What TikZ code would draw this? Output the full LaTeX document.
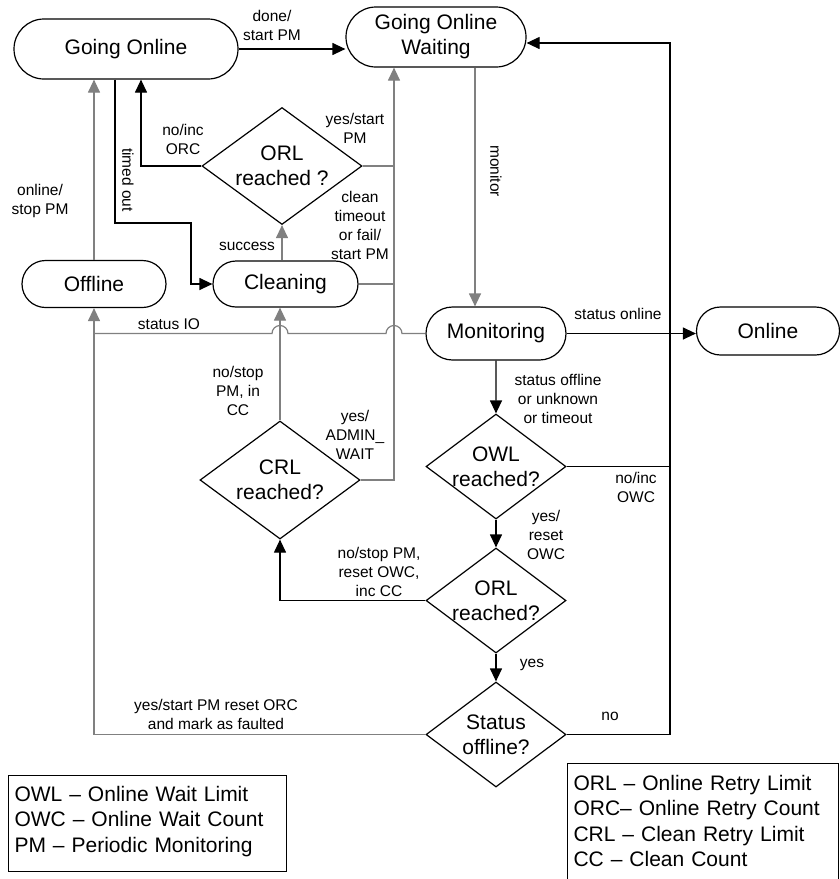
\documentclass[tikz,border=0pt]{standalone}
\usepackage{fontspec}
\setmainfont{Liberation Sans}
\usetikzlibrary{shapes.misc,shapes.geometric,arrows.meta,calc}

\newcommand{\statefont}{\fontsize{21}{25}\selectfont}
\newcommand{\edgefont}{\fontsize{15.5}{19}\selectfont}

\begin{document}
\begin{tikzpicture}[
x=1pt,y=-1pt,
line width=1.2pt,
>={Triangle[length=13pt,width=12pt]},
state/.style={draw,rounded rectangle,inner sep=0pt,align=center,font=\statefont},
decision/.style={draw,diamond,inner sep=-15pt,align=center,font=\statefont},
lbl/.style={inner sep=0pt,align=center,font=\edgefont},
flow/.style={draw=black,->},
flowg/.style={draw=gray,->},
bline/.style={draw=black},
gline/.style={draw=gray},
legend/.style={draw,line width=1pt,anchor=north west,align=left,inner sep=6pt,font=\fontsize{21}{25.5}\selectfont}
]
\path[use as bounding box,fill=white] (0,0) rectangle (840,879);

% states
\node[state,minimum width=224pt,minimum height=60pt] (goOn) at (126,49) {Going Online};
\node[state,minimum width=180pt,minimum height=60pt] (goWait) at (436,37) {Going Online\\Waiting};
\node[state,minimum width=144pt,minimum height=47pt] (offline) at (94,284) {Offline};
\node[state,minimum width=145pt,minimum height=46pt] (clean) at (285.5,284) {Cleaning};
\node[state,minimum width=140pt,minimum height=53pt] (monit) at (496,333.5) {Monitoring};
\node[state,minimum width=143pt,minimum height=48pt] (online) at (768,331) {Online};

% decisions
\node[decision,minimum width=160pt,minimum height=117pt] (orlA) at (282,166) {ORL\\reached ?};
\node[decision,minimum width=160pt,minimum height=118pt] (crl) at (280,480) {CRL\\reached?};
\node[decision,minimum width=140pt,minimum height=105pt] (owl) at (496,466.5) {OWL\\reached?};
\node[decision,minimum width=140pt,minimum height=105pt] (orlB) at (496,600.5) {ORL\\reached?};
\node[decision,minimum width=140pt,minimum height=105pt] (stOff) at (496,734.5) {Status\\offline?};

% bus lines
\coordinate (busX) at (394,0);
\coordinate (monX) at (475,0);
\coordinate (rtTop) at (670,43);
\coordinate (toBend) at (191,223);

% connectors
\draw[flow] (goOn.east) -- (goOn.east -| goWait.west);
\draw[flow] (stOff.east) -| (rtTop) -- (rtTop -| goWait.east);
\draw[bline] (owl.east) -- (owl.east -| rtTop);
\draw[flowg] (goWait.south -| monX) -- (monit.north -| monX);
\draw[flow] (monit) -- (owl);
\draw[flow] (monit.east) -- (monit.east -| online.west);
\draw[flow] (owl) -- (orlB);
\draw[flow] (orlB) -- (stOff);
\draw[flow] (orlB.west) -| (crl.south);
\draw[flowg] (crl.north) -- (crl.north |- clean.south);
\draw[flowg] (crl.east) -- (crl.east -| busX) -- (busX |- goWait.south);
\draw[gline] (orlA.east) -- (orlA.east -| busX);
\draw[gline] (clean.east) -- (clean.east -| busX);
\draw[flowg] (orlA.south |- clean.north) -- (orlA.south);
\draw[flow] (orlA.west) -| ([xshift=15pt]goOn.south);
\draw[flow] ([xshift=-11pt]goOn.south) |- (toBend) |- (clean.west);
\draw[flowg] (offline.north) -- (offline.north |- goOn.south);
\draw[flowg] (stOff.west) -| (offline.south);
\draw[gline] (monit.west) -- ($(monit.west -| busX)+(8,0)$)
  arc[start angle=0,end angle=180,radius=8pt]
  -- ($(monit.west -| crl.north)+(8,0)$)
  arc[start angle=0,end angle=180,radius=8pt]
  -- (monit.west -| offline.south);

% labels
\node[lbl] (lDone) at (272,25) {done/\\start PM};
\node[lbl] (lOnStop) at (40,201) {online/\\stop PM};
\node[lbl,rotate=-90] (lTimed) at (128,180) {timed out};
\node[lbl] (lNoOrc) at (183,139) {no/inc\\ORC};
\node[lbl] (lYesStart) at (355,128) {yes/start\\PM};
\node[lbl] (lClean) at (360,225) {clean\\timeout\\or fail/\\start PM};
\node[lbl] (lSuccess) at (247,246) {success};
\node[lbl,rotate=-90] (lMonitor) at (496,171) {monitor};
\node[lbl] (lStatusIO) at (169,324) {status IO};
\node[lbl] (lNoStop) at (238,391) {no/stop\\PM, in\\CC};
\node[lbl] (lAdmin) at (355,435) {yes/\\ADMIN\_\\WAIT};
\node[lbl] (lNoReset) at (379,572) {no/stop PM,\\reset OWC,\\inc CC};
\node[lbl] (lStOnline) at (618,314) {status online};
\node[lbl] (lStOffline) at (558,399) {status offline\\or unknown\\or timeout};
\node[lbl] (lNoOwc) at (636,487) {no/inc\\OWC};
\node[lbl] (lYesReset) at (546,535) {yes/\\reset\\OWC};
\node[lbl] (lYes) at (532,665) {yes};
\node[lbl] (lNo) at (610,716) {no};
\node[lbl] (lFaulted) at (216,714.5) {yes/start PM reset ORC\\and mark as faulted};

% legends
\node[legend,text width=266pt,minimum height=96pt,text depth=60pt] (abbrOW) at (8,775)
  {OWL – Online Wait Limit\\OWC – Online Wait Count\\PM – Periodic Monitoring};
\node[legend,text width=259pt,minimum height=130pt,text depth=92pt] (abbrOR) at (567,763)
  {ORL – Online Retry Limit\\ORC– Online Retry Count\\CRL – Clean Retry Limit\\CC – Clean Count};
\end{tikzpicture}
\end{document}
